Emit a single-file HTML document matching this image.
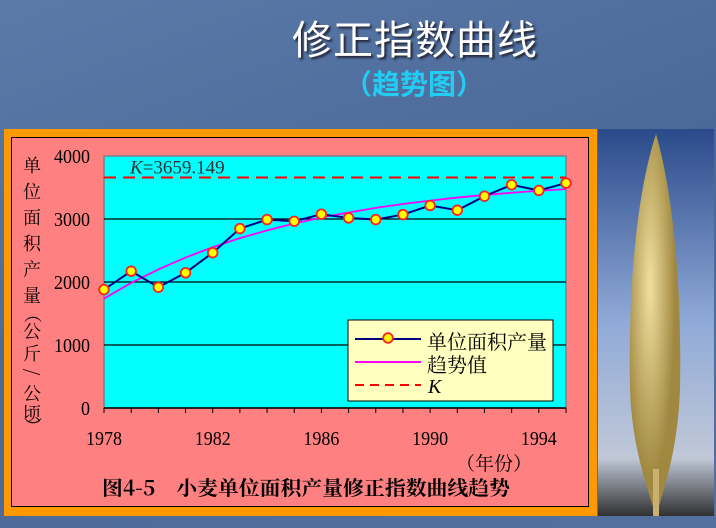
<!DOCTYPE html>
<html><head><meta charset="utf-8">
<style>
body{margin:0;width:716px;height:528px;overflow:hidden;background:linear-gradient(160deg,#5a7aa8 0%,#4a6898 50%,#54709e 100%);position:relative;font-family:"Liberation Serif","Noto Serif CJK SC",serif}
.abs{position:absolute}
</style></head><body>
<div class="abs" style="left:292px;top:12px;font:40px 'Noto Sans CJK SC',sans-serif;color:#fff;text-shadow:2px 2px 2px #223;letter-spacing:1px;line-height:50px">修正指数曲线</div>
<div class="abs" style="left:344px;top:64px;font:bold 28px 'Noto Sans CJK SC',sans-serif;color:#22ccf2;line-height:38px">（趋势图）</div>
<div class="abs" style="left:4px;top:129px;width:593px;height:387px;background:#ff9900"></div>
<div class="abs" style="left:11px;top:137px;width:576px;height:368px;background:#ff8080;border:1px solid #000"></div>
<svg class="abs" style="left:598px;top:129px" width="116" height="387">
<defs><linearGradient id="sky" x1="0" y1="0" x2="0" y2="1"><stop offset="0" stop-color="#2a4a8a"/><stop offset="0.5" stop-color="#90aad8"/><stop offset="0.85" stop-color="#c0c8d8"/><stop offset="1" stop-color="#303030"/></linearGradient>
<radialGradient id="gr" cx="0.4" cy="0.4"><stop offset="0" stop-color="#f0e0a0"/><stop offset="1" stop-color="#a08840"/></radialGradient></defs>
<rect width="116" height="387" fill="url(#sky)"/>
<path d="M58 5 C40 60 30 150 32 260 C34 320 50 360 58 387 C66 360 80 320 82 260 C84 150 74 60 58 5Z" fill="url(#gr)"/>
<rect x="55" y="340" width="6" height="47" fill="#c8b070"/>
</svg>
<svg id="chart" class="abs" style="left:0;top:0" width="716" height="528"></svg>
<script>
const years=[1978,1979,1980,1981,1982,1983,1984,1985,1986,1987,1988,1989,1990,1991,1992,1993,1994,1995];
const yieldVals=[1880,2172,1917,2146,2465,2848,2991,2964,3076,3017,2991,3070,3214,3139,3362,3543,3453,3570];
const trendVals=[1737,1985,2200,2388,2552,2696,2819,2929,3023,3104,3177,3238,3292,3340,3380,3417,3448,3474];
const kValue=3659.149;
const yTicks=[0,1000,2000,3000,4000];
const xLabels=[1978,1982,1986,1990,1994];
const NS="http://www.w3.org/2000/svg";
const svg=document.getElementById('chart');
const X0=104,X1=566,Y0=408,Y1=156;
const xs=y=>X0+(y-1978)/(1995-1978)*(X1-X0);
const ys=v=>Y0-v/4000*(Y0-Y1);
function mk(t,a){const e=document.createElementNS(NS,t);for(const k in a)e.setAttribute(k,a[k]);svg.appendChild(e);return e;}
let e=mk('rect',{x:X0,y:Y1,width:X1-X0,height:Y0-Y1,fill:'#00ffff',stroke:'#808080','stroke-width':1.5});

yTicks.forEach(v=>{
 if(v>0&&v<4000){e=mk('line',{x1:X0,x2:X1,y1:ys(v),y2:ys(v),stroke:'#000','stroke-width':1.2});
 }
 e=mk('text',{x:90,y:ys(v)+7,'text-anchor':'end','font-size':20,fill:'#000',transform:'translate(90 0) scale(0.9 1) translate(-90 0)'});e.textContent=v;
 
});
e=mk('line',{x1:X0,x2:X1,y1:Y0,y2:Y0,stroke:'#000','stroke-width':1.5});

years.forEach(y=>{e=mk('line',{x1:xs(y),x2:xs(y),y1:Y0,y2:Y0+5,stroke:'#000'});
 });
xLabels.forEach(y=>{e=mk('text',{x:xs(y),y:445,'text-anchor':'middle','font-size':20,transform:'translate('+xs(y)+' 0) scale(0.9 1) translate('+(-xs(y))+' 0)'});e.textContent=y;
 });
e=mk('line',{x1:X0,x2:X1,y1:ys(kValue),y2:ys(kValue),stroke:'#ff0000','stroke-width':2,'stroke-dasharray':'12,7'});

e=mk('text',{x:130,y:ys(kValue)-4,'font-size':19,fill:'#333'});
e.innerHTML='<tspan font-style="italic">K</tspan>=3659.149';

e=mk('polyline',{points:years.map((y,i)=>xs(y)+','+ys(trendVals[i])).join(' '),fill:'none',stroke:'#ff00ff','stroke-width':1.8});

e=mk('polyline',{points:years.map((y,i)=>xs(y)+','+ys(yieldVals[i])).join(' '),fill:'none',stroke:'#000080','stroke-width':2});

years.forEach((y,i)=>{e=mk('circle',{cx:xs(y),cy:ys(yieldVals[i]),r:4.8,fill:'#ffff00',stroke:'#ff2020','stroke-width':1.8});
 });
e=mk('rect',{x:348,y:320,width:205,height:81,fill:'#ffffc0',stroke:'#000','stroke-width':1});

e=mk('line',{x1:355,x2:421,y1:339,y2:339,stroke:'#000080','stroke-width':2});

e=mk('circle',{cx:388,cy:338,r:4.8,fill:'#ffff00',stroke:'#ff2020','stroke-width':1.8});

e=mk('line',{x1:355,x2:421,y1:362,y2:362,stroke:'#ff00ff','stroke-width':2});

e=mk('line',{x1:355,x2:421,y1:385,y2:385,stroke:'#ff0000','stroke-width':2,'stroke-dasharray':'9,6'});

[['单位面积产量',349,'legend-yield-label'],['趋势值',372,'legend-trend-label']].forEach(a=>{
 e=mk('text',{x:427,y:a[1],'font-size':20,'font-family':'Noto Serif CJK SC,serif'});e.textContent=a[0];
 });
e=mk('text',{x:428,y:393,'font-size':20,'font-style':'italic'});e.textContent='K';

const yt='单位面积产量（公斤/公顷）'.split('');
const ytY=[172,198,224,250,276,302,320,338,360,378,400,420,432];
yt.forEach((c,i)=>{e=mk('text',{x:32,y:ytY[i],'text-anchor':'middle','font-size':18,'font-family':'Noto Serif CJK SC,serif'});
 if(c==='（'||c==='）'||c==='/'){e.setAttribute('transform','rotate(90 32 '+(ytY[i]-6)+')');}
 e.textContent=c;});
e=mk('text',{x:456,y:470,'font-size':19,'font-family':'Noto Serif CJK SC,serif'});e.textContent='（年份）';

e=mk('text',{x:102,y:495,'font-size':20,'font-weight':'bold','font-family':'Noto Serif CJK SC,serif',textLength:408,lengthAdjust:'spacingAndGlyphs'});e.textContent='图4-5　小麦单位面积产量修正指数曲线趋势';

</script>
</body></html>
